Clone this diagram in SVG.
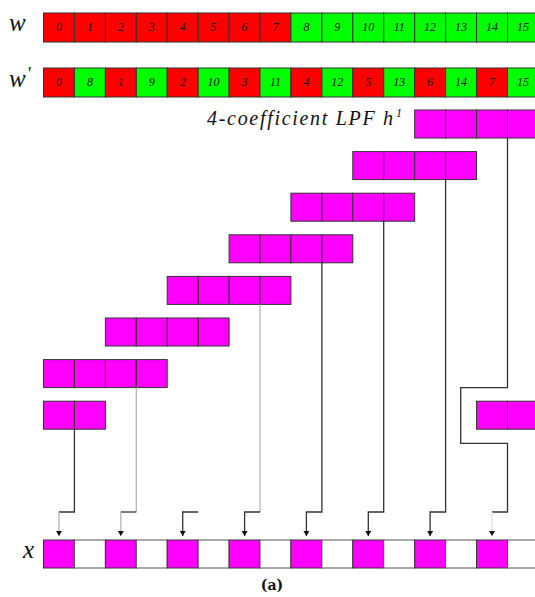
<svg xmlns="http://www.w3.org/2000/svg" width="535" height="597" viewBox="0 0 535 597">
  <style>
    .lbl { font-family: "Liberation Serif", "Times New Roman", Times, "DejaVu Serif", serif; font-style: italic; fill: #111; }
    .num { font-family: "Liberation Serif", "Times New Roman", Times, "DejaVu Serif", serif; font-style: italic; font-size: 12px; fill: #111; text-anchor: middle; }
    .cap { font-family: "DejaVu Serif", serif; font-weight: bold; font-size: 14px; fill: #111; text-anchor: middle; }
    .r { fill: #ff0000; stroke: #333; stroke-width: 1; }
    .g { fill: #00ff00; stroke: #333; stroke-width: 1; }
    .m { fill: #ff00ff; stroke: #333; stroke-width: 1; }
    .e { fill: #ffffff; stroke: #555; stroke-width: 1; }
    .dk { fill: none; stroke: #333; stroke-width: 1.3; }
    .lt { fill: none; stroke: #b5b5b5; stroke-width: 1.3; }
    .ft { fill: none; stroke: #e2e2e2; stroke-width: 1.3; }
  </style>
  <defs>
    <marker id="tip" viewBox="0 0 5 6" refX="5" refY="3" markerWidth="5" markerHeight="6" markerUnits="userSpaceOnUse" orient="auto">
      <path d="M0,0 L5,3 L0,6 z" fill="#111"/>
    </marker>
  </defs>

  <rect width="535" height="597" fill="#ffffff"/>

  <!-- input vector w -->
  <g id="w">
    <text class="lbl" x="9" y="31" font-size="25">w</text>
    <rect class="r" x="43.5" y="13" width="30.9" height="29"/>
    <rect class="r" x="74.4" y="13" width="31" height="29"/>
    <rect class="r" x="105.4" y="13" width="30.9" height="29"/>
    <rect class="r" x="136.3" y="13" width="30.9" height="29"/>
    <rect class="r" x="167.2" y="13" width="31" height="29"/>
    <rect class="r" x="198.2" y="13" width="30.9" height="29"/>
    <rect class="r" x="229.1" y="13" width="30.9" height="29"/>
    <rect class="r" x="260" y="13" width="30.9" height="29"/>
    <rect class="g" x="290.9" y="13" width="31" height="29"/>
    <rect class="g" x="321.9" y="13" width="30.9" height="29"/>
    <rect class="g" x="352.8" y="13" width="30.9" height="29"/>
    <rect class="g" x="383.7" y="13" width="31" height="29"/>
    <rect class="g" x="414.7" y="13" width="30.9" height="29"/>
    <rect class="g" x="445.6" y="13" width="30.9" height="29"/>
    <rect class="g" x="476.5" y="13" width="31" height="29"/>
    <rect class="g" x="507.5" y="13" width="30.9" height="29"/>
    <text class="num" x="59" y="31">0</text>
    <text class="num" x="89.9" y="31">1</text>
    <text class="num" x="120.8" y="31">2</text>
    <text class="num" x="151.8" y="31">3</text>
    <text class="num" x="182.7" y="31">4</text>
    <text class="num" x="213.6" y="31">5</text>
    <text class="num" x="244.6" y="31">6</text>
    <text class="num" x="275.5" y="31">7</text>
    <text class="num" x="306.4" y="31">8</text>
    <text class="num" x="337.3" y="31">9</text>
    <text class="num" x="368.3" y="31">10</text>
    <text class="num" x="399.2" y="31">11</text>
    <text class="num" x="430.1" y="31">12</text>
    <text class="num" x="461.1" y="31">13</text>
    <text class="num" x="492" y="31">14</text>
    <text class="num" x="522.9" y="31">15</text>
  </g>

  <!-- interleaved vector w' -->
  <g id="w-prime">
    <text class="lbl" x="9" y="87" font-size="25">w<tspan font-size="18" dy="-7" dx="1">'</tspan></text>
    <rect class="r" x="43.5" y="68" width="30.9" height="29"/>
    <rect class="g" x="74.4" y="68" width="31" height="29"/>
    <rect class="r" x="105.4" y="68" width="30.9" height="29"/>
    <rect class="g" x="136.3" y="68" width="30.9" height="29"/>
    <rect class="r" x="167.2" y="68" width="31" height="29"/>
    <rect class="g" x="198.2" y="68" width="30.9" height="29"/>
    <rect class="r" x="229.1" y="68" width="30.9" height="29"/>
    <rect class="g" x="260" y="68" width="30.9" height="29"/>
    <rect class="r" x="290.9" y="68" width="31" height="29"/>
    <rect class="g" x="321.9" y="68" width="30.9" height="29"/>
    <rect class="r" x="352.8" y="68" width="30.9" height="29"/>
    <rect class="g" x="383.7" y="68" width="31" height="29"/>
    <rect class="r" x="414.7" y="68" width="30.9" height="29"/>
    <rect class="g" x="445.6" y="68" width="30.9" height="29"/>
    <rect class="r" x="476.5" y="68" width="31" height="29"/>
    <rect class="g" x="507.5" y="68" width="30.9" height="29"/>
    <text class="num" x="59" y="86">0</text>
    <text class="num" x="89.9" y="86">8</text>
    <text class="num" x="120.8" y="86">1</text>
    <text class="num" x="151.8" y="86">9</text>
    <text class="num" x="182.7" y="86">2</text>
    <text class="num" x="213.6" y="86">10</text>
    <text class="num" x="244.6" y="86">3</text>
    <text class="num" x="275.5" y="86">11</text>
    <text class="num" x="306.4" y="86">4</text>
    <text class="num" x="337.3" y="86">12</text>
    <text class="num" x="368.3" y="86">5</text>
    <text class="num" x="399.2" y="86">13</text>
    <text class="num" x="430.1" y="86">6</text>
    <text class="num" x="461.1" y="86">14</text>
    <text class="num" x="492" y="86">7</text>
    <text class="num" x="522.9" y="86">15</text>
  </g>

  <!-- filter label -->
  <g id="filter-label">
    <text class="lbl" x="207" y="125" font-size="20" textLength="186" lengthAdjust="spacing">4-coefficient LPF h</text>
    <text class="lbl" x="396" y="117" font-size="12">1</text>
  </g>

  <!-- filter positions, shifted by two cells per step -->
  <g id="filter-0">
    <rect class="m" x="414.7" y="110" width="30.9" height="28"/>
    <rect class="m" x="445.6" y="110" width="30.9" height="28"/>
    <rect class="m" x="476.5" y="110" width="31" height="28"/>
    <rect class="m" x="507.5" y="110" width="30.9" height="28"/>
  </g>
  <g id="filter-1">
    <rect class="m" x="352.8" y="151.6" width="30.9" height="28"/>
    <rect class="m" x="383.7" y="151.6" width="31" height="28"/>
    <rect class="m" x="414.7" y="151.6" width="30.9" height="28"/>
    <rect class="m" x="445.6" y="151.6" width="30.9" height="28"/>
  </g>
  <g id="filter-2">
    <rect class="m" x="290.9" y="193.2" width="31" height="28"/>
    <rect class="m" x="321.9" y="193.2" width="30.9" height="28"/>
    <rect class="m" x="352.8" y="193.2" width="30.9" height="28"/>
    <rect class="m" x="383.7" y="193.2" width="31" height="28"/>
  </g>
  <g id="filter-3">
    <rect class="m" x="229.1" y="234.8" width="30.9" height="28"/>
    <rect class="m" x="260" y="234.8" width="30.9" height="28"/>
    <rect class="m" x="290.9" y="234.8" width="31" height="28"/>
    <rect class="m" x="321.9" y="234.8" width="30.9" height="28"/>
  </g>
  <g id="filter-4">
    <rect class="m" x="167.2" y="276.4" width="31" height="28"/>
    <rect class="m" x="198.2" y="276.4" width="30.9" height="28"/>
    <rect class="m" x="229.1" y="276.4" width="30.9" height="28"/>
    <rect class="m" x="260" y="276.4" width="30.9" height="28"/>
  </g>
  <g id="filter-5">
    <rect class="m" x="105.4" y="318" width="30.9" height="28"/>
    <rect class="m" x="136.3" y="318" width="30.9" height="28"/>
    <rect class="m" x="167.2" y="318" width="31" height="28"/>
    <rect class="m" x="198.2" y="318" width="30.9" height="28"/>
  </g>
  <g id="filter-6">
    <rect class="m" x="43.5" y="359.6" width="30.9" height="28"/>
    <rect class="m" x="74.4" y="359.6" width="31" height="28"/>
    <rect class="m" x="105.4" y="359.6" width="30.9" height="28"/>
    <rect class="m" x="136.3" y="359.6" width="30.9" height="28"/>
  </g>
  <!-- wrapped filter: two taps at the start, two at the end -->
  <g id="filter-7">
    <rect class="m" x="43.5" y="401.2" width="30.9" height="28"/>
    <rect class="m" x="74.4" y="401.2" width="31" height="28"/>
    <rect class="m" x="476.5" y="401.2" width="31" height="28"/>
    <rect class="m" x="507.5" y="401.2" width="30.9" height="28"/>
  </g>

  <!-- output vector x -->
  <g id="x">
    <text class="lbl" x="23" y="558" font-size="25">x</text>
    <rect class="m" x="43.5" y="540" width="30.9" height="28"/>
    <rect class="e" x="74.4" y="540" width="31" height="28"/>
    <rect class="m" x="105.4" y="540" width="30.9" height="28"/>
    <rect class="e" x="136.3" y="540" width="30.9" height="28"/>
    <rect class="m" x="167.2" y="540" width="31" height="28"/>
    <rect class="e" x="198.2" y="540" width="30.9" height="28"/>
    <rect class="m" x="229.1" y="540" width="30.9" height="28"/>
    <rect class="e" x="260" y="540" width="30.9" height="28"/>
    <rect class="m" x="290.9" y="540" width="31" height="28"/>
    <rect class="e" x="321.9" y="540" width="30.9" height="28"/>
    <rect class="m" x="352.8" y="540" width="30.9" height="28"/>
    <rect class="e" x="383.7" y="540" width="31" height="28"/>
    <rect class="m" x="414.7" y="540" width="30.9" height="28"/>
    <rect class="e" x="445.6" y="540" width="30.9" height="28"/>
    <rect class="m" x="476.5" y="540" width="31" height="28"/>
    <rect class="e" x="507.5" y="540" width="30.9" height="28"/>
  </g>

  <!-- connectors from each filter position to its output sample -->
  <g id="connectors">
    <path class="dk" d="M74.4 429.2 V512 H59"/>
    <path class="lt" d="M59 512 V536" marker-end="url(#tip)"/>

    <path class="lt" d="M136.3 387.6 V512"/>
    <path class="dk" d="M136.3 512 H120.8"/>
    <path class="lt" d="M120.8 512 V536" marker-end="url(#tip)"/>

    <path class="dk" d="M198.2 512 H182.7 V536" marker-end="url(#tip)"/>

    <path class="lt" d="M260 304.4 V512"/>
    <path class="dk" d="M260 512 H244.6 V536" marker-end="url(#tip)"/>

    <path class="dk" d="M321.9 262.8 V512 H306.4 V536" marker-end="url(#tip)"/>

    <path class="dk" d="M383.7 221.2 V512 H368.3 V536" marker-end="url(#tip)"/>

    <path class="dk" d="M445.6 179.6 V512 H430.1 V536" marker-end="url(#tip)"/>

    <path class="dk" d="M507.5 138 V387.7 H460.7 V443.3 H507.5 V512 H492"/>
    <path class="ft" d="M492 512 V536" marker-end="url(#tip)"/>
  </g>

  <text class="cap" x="272" y="590">(a)</text>
</svg>
